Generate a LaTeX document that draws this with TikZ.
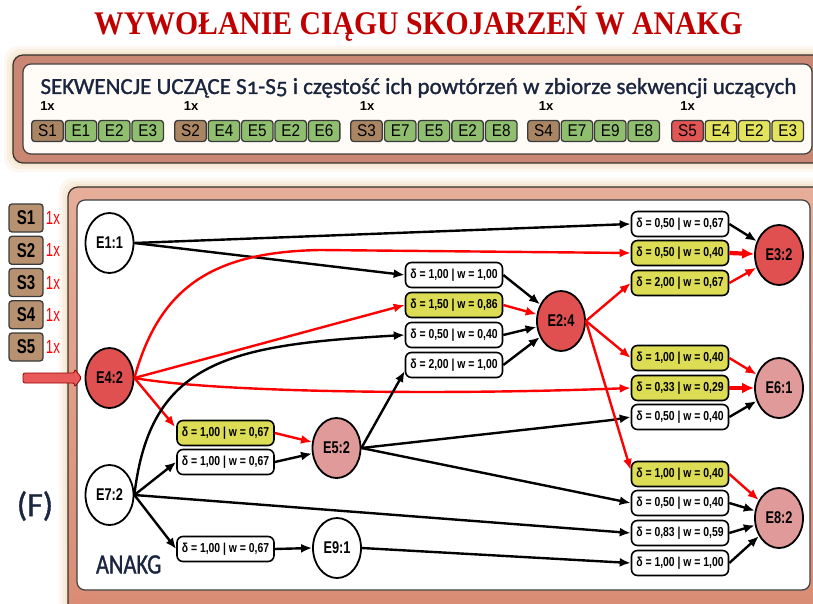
\documentclass[tikz,border=0pt]{standalone}
\usepackage{fontspec}
\setmainfont{Liberation Sans}
\newfontfamily\titlefont{Liberation Serif}
\newfontfamily\hdrfont[Numbers=OldStyle, FakeBold=1.2]{Carlito}
\newfontfamily\narrowfont[FakeStretch=0.8]{Liberation Sans}
\newfontfamily\enfont[FakeStretch=0.75]{Liberation Sans}
\newfontfamily\sfont[FakeStretch=0.9]{Liberation Sans}
\newfontfamily\xfont[FakeStretch=0.7]{Liberation Sans}
\usetikzlibrary{arrows.meta,shapes.geometric,calc}
\definecolor{titlered}{HTML}{C00000}
\definecolor{navy}{HTML}{1A2540}
\definecolor{panelA}{HTML}{C98672}
\definecolor{panelB}{HTML}{E6AE99}
\definecolor{panelC}{HTML}{D88B72}
\definecolor{halo}{HTML}{F4DFC2}
\definecolor{innerc}{HTML}{FFFCF7}
\definecolor{sbrown}{HTML}{A98563}
\definecolor{lbrown}{HTML}{B89270}
\definecolor{egreen}{HTML}{8FBE6F}
\definecolor{ered}{HTML}{E15555}
\definecolor{eyellow}{HTML}{E3E35E}
\definecolor{npink}{HTML}{E19A9A}
\definecolor{nred}{HTML}{E05050}
\definecolor{synyel}{HTML}{DCDC55}
\definecolor{boxline}{HTML}{3A3A3A}
\definecolor{arrred}{HTML}{E85A5A}
\begin{document}
\begin{tikzpicture}[x=1pt,y=-1pt,
  seqbox/.style={rectangle, rounded corners=3pt, draw=boxline, line width=1.3pt,
    minimum width=31.5pt, minimum height=21pt, inner sep=0pt,
    font=\sfont\fontsize{17}{17}\selectfont},
  sq/.style={seqbox, fill=sbrown},
  eg/.style={seqbox, fill=egreen},
  er/.style={seqbox, fill=ered},
  ey/.style={seqbox, fill=eyellow},
  onex/.style={font=\bfseries\fontsize{13}{13}\selectfont},
  lsbox/.style={rectangle, rounded corners=3pt, draw=boxline, line width=1.3pt,
    fill=lbrown, minimum width=34pt, minimum height=28pt, inner sep=0pt,
    font=\enfont\bfseries\fontsize{20}{20}\selectfont},
  redx/.style={text=red, font=\xfont\fontsize{19}{19}\selectfont},
  neuron/.style={ellipse, draw=black, line width=1.8pt, minimum width=48pt,
    minimum height=60pt, inner sep=0pt, font=\enfont\bfseries\fontsize{17}{17}\selectfont},
  nw/.style={neuron, fill=white},
  nr/.style={neuron, fill=nred},
  np/.style={neuron, fill=npink},
  syn/.style={rectangle, rounded corners=6pt, draw=black, line width=1.6pt,
    minimum width=97pt, minimum height=25pt, inner sep=0pt, fill=white,
    font=\narrowfont\bfseries\fontsize{13}{13}\selectfont},
  ysyn/.style={syn, fill=synyel},
  bedge/.style={line width=2.4pt, black, -{Latex[length=11pt,width=9pt]}},
  redge/.style={line width=2.4pt, red, -{Latex[length=11pt,width=9pt]}},
  tredge/.style={line width=4.2pt, red, -{Latex[length=12pt,width=11pt]}}
]
\useasboundingbox (0,0) rectangle (813,604);
% halos
\foreach \r/\o in {9/0.25,6/0.35,3/0.5}{
  \fill[halo, opacity=\o, rounded corners=14pt] (13-\r,55-\r) rectangle (840,163+\r);
  \fill[halo, opacity=\o, rounded corners=14pt] (68-\r,187-\r) rectangle (840,620);
}
% panels
\draw[line width=1.2pt, draw=black!80, fill=panelA, rounded corners=10pt] (13,55) rectangle (840,163);
\draw[line width=1.2pt, draw=black!75, fill=innerc, rounded corners=8pt] (23,64) rectangle (812,154);
\draw[line width=1.2pt, draw=black!80, top color=panelB, bottom color=panelC, rounded corners=10pt] (68,187) rectangle (840,625);
\draw[line width=1.2pt, draw=black!75, fill=white, rounded corners=8pt] (77,200) rectangle (810,590);
% title
\node[anchor=base, text=titlered] (title) at (418.5,35) {\titlefont\bfseries\fontsize{33}{33}\selectfont\scalebox{0.9}[1]{WYWOŁANIE CIĄGU SKOJARZEŃ W ANAKG}};
% header
\node[anchor=base, text=navy] (hdr) at (418.5,94) {\hdrfont\fontsize{23}{23}\selectfont SEKWENCJE UCZĄCE S1-S5 i częstość ich powtórzeń w zbiorze sekwencji uczących};
% 1x labels
\node[onex] (x1) at (47.5,106) {1x};
\node[onex] (x2) at (191,106) {1x};
\node[onex] (x3) at (367,106) {1x};
\node[onex] (x4) at (546,106) {1x};
\node[onex] (x5) at (687.5,106) {1x};
% sequences
\node[sq] (q1s) at (47.5,131) {S1};
\node[eg] (q1a) at (80.9,131) {E1};
\node[eg] (q1b) at (114.3,131) {E2};
\node[eg] (q1c) at (147.7,131) {E3};
\node[sq] (q2s) at (190.5,131) {S2};
\node[eg] (q2a) at (223.9,131) {E4};
\node[eg] (q2b) at (257.3,131) {E5};
\node[eg] (q2c) at (290.7,131) {E2};
\node[eg] (q2d) at (324.1,131) {E6};
\node[sq] (q3s) at (366.5,131) {S3};
\node[eg] (q3a) at (400.2,131) {E7};
\node[eg] (q3b) at (433.9,131) {E5};
\node[eg] (q3c) at (467.6,131) {E2};
\node[eg] (q3d) at (501.3,131) {E8};
\node[sq] (q4s) at (543.5,131) {S4};
\node[eg] (q4a) at (576.9,131) {E7};
\node[eg] (q4b) at (610.3,131) {E9};
\node[eg] (q4c) at (643.7,131) {E8};
\node[er] (q5s) at (687.5,131) {S5};
\node[ey] (q5a) at (720.9,131) {E4};
\node[ey] (q5b) at (754.3,131) {E2};
\node[ey] (q5c) at (787.7,131) {E3};
% left S column
\node[lsbox] (ls1) at (26,218) {S1};
\node[lsbox] (ls2) at (26,250.3) {S2};
\node[lsbox] (ls3) at (26,282.5) {S3};
\node[lsbox] (ls4) at (26,314.8) {S4};
\node[lsbox] (ls5) at (26,347) {S5};
\node[redx] (lx1) at (53,218) {1x};
\node[redx] (lx2) at (53,250.3) {1x};
\node[redx] (lx3) at (53,282.5) {1x};
\node[redx] (lx4) at (53,314.8) {1x};
\node[redx] (lx5) at (53,347) {1x};
% labels
\node[text=navy] (flab) at (35,506) {\hdrfont\fontsize{34}{34}\selectfont (F)};
\node[anchor=base west, text=navy] (anak) at (92.5,573.5) {\hdrfont\fontsize{28}{28}\selectfont\scalebox{0.8}[1]{ANAKG}};
% neurons
\node[nw] (E1) at (109.5,243) {E1:1};
\node[nr] (E4) at (109.5,378) {E4:2};
\node[nw] (E7) at (109.5,495) {E7:2};
\node[np] (E5) at (336.5,448) {E5:2};
\node[nw] (E9) at (337,548) {E9:1};
\node[nr] (E2) at (561,321) {E2:4};
\node[nr] (E3) at (779,255) {E3:2};
\node[np] (E6) at (779,388) {E6:1};
\node[np] (E8) at (779,518) {E8:2};
% synapse boxes
\node[ysyn] (L1) at (225.5,433) {δ = 1,00 | w = 0,67};
\node[syn]  (L2) at (225.5,462) {δ = 1,00 | w = 0,67};
\node[syn]  (L3) at (225.5,549) {δ = 1,00 | w = 0,67};
\node[syn]  (M1) at (454,275) {δ = 1,00 | w = 1,00};
\node[ysyn] (M2) at (454,305) {δ = 1,50 | w = 0,86};
\node[syn]  (M3) at (454,335) {δ = 0,50 | w = 0,40};
\node[syn]  (M4) at (454,365) {δ = 2,00 | w = 1,00};
\node[syn]  (R1) at (680,224) {δ = 0,50 | w = 0,67};
\node[ysyn] (R2) at (680,253) {δ = 0,50 | w = 0,40};
\node[ysyn] (R3) at (680,283) {δ = 2,00 | w = 0,67};
\node[ysyn] (R4) at (680,358) {δ = 1,00 | w = 0,40};
\node[ysyn] (R5) at (680,388) {δ = 0,33 | w = 0,29};
\node[syn]  (R6) at (680,417) {δ = 0,50 | w = 0,40};
\node[ysyn] (R7) at (680,474) {δ = 1,00 | w = 0,40};
\node[syn]  (R8) at (680,503) {δ = 0,50 | w = 0,40};
\node[syn]  (R9) at (680,533) {δ = 0,83 | w = 0,59};
\node[syn]  (R10) at (680,563) {δ = 1,00 | w = 1,00};
% input arrow
\coordinate (inTail) at (23,378);
\coordinate (inTip) at ($(E4.west)+(-3,0)$);
\draw[draw=red!60!black, line width=0.8pt, fill=arrred, rounded corners=2pt]
  ($(inTail)+(0,-5)$) -- ($(inTip)+(-7,-5)$) -- ($(inTip)+(-7,-9)$) -- (inTip)
  -- ($(inTip)+(-7,9)$) -- ($(inTip)+(-7,5)$) -- ($(inTail)+(0,5)$) -- cycle;
% edges
\draw[bedge] (E1.east) -- (R1.west);
\draw[bedge] (E1.east) -- (M1.west);
\draw[redge] (E4.east) .. controls (160,285) and (215,252) .. (320,250) -- (R2.west);
\draw[redge] (E4.east) -- (M2.west);
\draw[redge] (E4.east) .. controls (220,393) and (450,395) .. (R5.west);
\draw[redge] (E4.east) -- ($(L1.west)+(-1,-6)$);
\draw[bedge] (E7.east) .. controls (150,360) and (230,345) .. (M3.west);
\draw[bedge] (E7.east) -- (L2.west);
\draw[bedge] (E7.east) -- (R9.west);
\draw[bedge] (E7.east) -- (L3.west);
\draw[redge] (L1.east) -- (E5);
\draw[bedge] (L2.east) -- (E5);
\draw[bedge] (E5.east) -- ($(M4.west)+(0,6)$);
\draw[bedge, rounded corners=6pt] (E5.east) -- (612,420) -- (R6.west);
\draw[bedge] (E5.east) -- (R8.west);
\draw[bedge] (L3.east) -- (E9.west);
\draw[bedge] (E9.east) -- (R10.west);
\draw[bedge] (M1.east) -- (E2);
\draw[redge] (M2.east) -- (E2);
\draw[bedge] (M3.east) -- (E2);
\draw[bedge] (M4.east) -- (E2);
\draw[redge] (E2.east) -- (R3.west);
\draw[redge] (E2.east) -- (R4.west);
\draw[redge] (E2.east) -- ($(R7.west)+(0,-4)$);
\draw[bedge] (R1.east) -- (E3);
\draw[tredge] (R2.east) -- (E3);
\draw[redge] (R3.east) -- (E3);
\draw[redge] (R4.east) -- (E6);
\draw[tredge] (R5.east) -- (E6);
\draw[bedge] (R6.east) -- (E6);
\draw[redge] (R7.east) -- (E8);
\draw[bedge] (R8.east) -- (E8);
\draw[bedge] (R9.east) -- (E8);
\draw[bedge] (R10.east) -- (E8);
\end{tikzpicture}
\end{document}
